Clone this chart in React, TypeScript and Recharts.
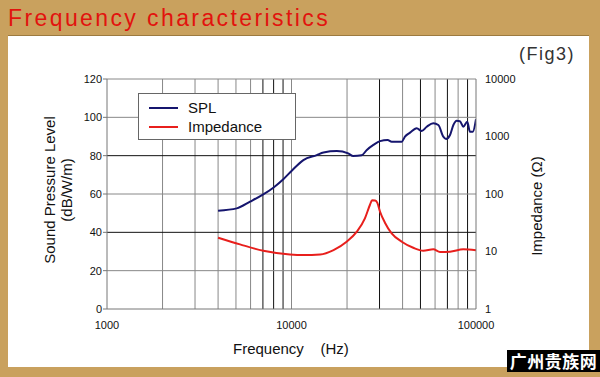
import { ComposedChart, Line, XAxis, YAxis, ReferenceLine } from "recharts";

const splFreq = [4000, 5050, 5960, 7030, 7970, 9030, 10000, 11600, 13700, 14900, 17600, 20300, 21600, 24000, 25600, 27800, 30200, 33200, 34900, 39600, 41200, 43900, 47700, 50800, 54100, 58700, 62500, 66500, 68800, 72300, 75400, 78600, 81800, 85300, 89700, 92700, 96100, 100000];
const splValues = [51.3, 52.5, 56, 59.8, 63.3, 67.7, 72, 77.7, 80.3, 81.7, 82.4, 81.2, 79.8, 80.2, 83, 85.6, 87.6, 88.2, 87.3, 87.3, 89.9, 92, 94.3, 92.9, 95.1, 96.9, 96, 89.9, 88.7, 90.8, 96, 98.2, 98, 95.1, 97.7, 92.5, 92.5, 99];

const impFreq = [4000, 5260, 7030, 9810, 11600, 14300, 16900, 19900, 22600, 25000, 26600, 27300, 28400, 29200, 30200, 32100, 34900, 39600, 45700, 51800, 58700, 63800, 72300, 85300, 100000];
const impValues = [17.4, 13.3, 10.3, 8.9, 8.7, 8.9, 10.6, 14.8, 22.1, 37.8, 64.4, 77.5, 77, 70, 49.2, 31.7, 20.7, 14.8, 11.6, 10.3, 10.9, 9.8, 9.9, 10.9, 10.5];

const freqTicks = [1000, 10000, 100000];
const splTicks = [0, 20, 40, 60, 80, 100, 120];
const impTicks = [1, 10, 100, 1000, 10000];
const gridFreqs = [2000, 3000, 4000, 5000, 6000, 7000, 8000, 9000, 10000, 20000, 30000, 40000, 50000, 60000, 70000, 80000, 90000];
const gridLevels = [20, 40, 60, 80, 100];

const splData = splFreq.map((f, i) => ({ f, v: splValues[i] }));
const impData = impFreq.map((f, i) => ({ f, v: impValues[i] }));

const darkFreqs = [7000, 8000, 9000, 30000, 50000, 70000, 90000];
const darkLevels = [40, 80];

const FONT = "'Liberation Sans', Arial, sans-serif";
const tickStyle = { fontSize: 11, fill: "#111", fontFamily: FONT };

const legendRows = [
  { name: "SPL", color: "#15156e" },
  { name: "Impedance", color: "#e81f1c" },
];

function LegendBox() {
  return (
    <div style={{ position: "absolute", left: 138, top: 93, width: 158, height: 47, border: "1px solid #666", background: "#fff", boxSizing: "border-box", paddingTop: 4 }}>
      {legendRows.map((r) => (
        <div key={r.name} style={{ display: "flex", alignItems: "center", height: 19, fontFamily: FONT, fontSize: 15, color: "#111" }}>
          <div style={{ width: 29, height: 2, background: r.color, marginLeft: 10, marginRight: 10 }} />
          {r.name}
        </div>
      ))}
    </div>
  );
}

export default function App() {
  return (
    <div style={{ position: "absolute", left: 0, top: 0, width: 600, height: 377, background: "#c9a15e", overflow: "hidden" }}>
      <div style={{ position: "absolute", left: 8, top: 35, width: 581, height: 331, background: "#fff", borderTop: "1px solid #9c7a40" }} />
      <div style={{ position: "absolute", left: 8, top: 4, fontFamily: FONT, fontSize: 23, letterSpacing: 2.4, color: "#e2130e", lineHeight: "28px" }}>
        Frequency characteristics
      </div>
      <div style={{ position: "absolute", left: 519, top: 42, fontFamily: FONT, fontSize: 18, letterSpacing: 1.5, color: "#333", lineHeight: "24px" }}>
        (Fig3)
      </div>
      <div style={{ position: "absolute", left: 0, top: 0 }}>
        <ComposedChart width={600} height={377} margin={{ top: 79, right: 0, bottom: 0, left: 0 }}>
          <XAxis
            dataKey="f"
            type="number"
            scale="log"
            domain={[1000, 100000]}
            ticks={freqTicks}
            allowDataOverflow
            height={68}
            stroke="#777"
            tickLine={false}
            tickSize={6}
            tickMargin={6}
            tick={tickStyle}
          />
          <YAxis
            yAxisId="spl"
            orientation="left"
            domain={[0, 120]}
            ticks={splTicks}
            width={107}
            stroke="#777"
            tickSize={4}
            tickMargin={1}
            tick={tickStyle}
          />
          <YAxis
            yAxisId="imp"
            orientation="right"
            scale="log"
            domain={[1, 10000]}
            ticks={impTicks}
            allowDataOverflow
            width={124}
            stroke="#777"
            tickLine={false}
            tickSize={6}
            tickMargin={3}
            tick={tickStyle}
          />
          {gridFreqs.map((f) => (
            <ReferenceLine key={"x" + f} x={f} yAxisId="spl" stroke={darkFreqs.includes(f) ? "#111" : "#888"} strokeWidth={1} />
          ))}
          {gridLevels.map((v) => (
            <ReferenceLine key={"y" + v} y={v} yAxisId="spl" stroke={darkLevels.includes(v) ? "#111" : "#888"} strokeWidth={1} />
          ))}
          <ReferenceLine y={120} yAxisId="spl" stroke="#888" />
          <Line
            data={splData}
            dataKey="v"
            name="SPL"
            yAxisId="spl"
            type="monotone"
            stroke="#15156e"
            strokeWidth={2}
            dot={false}
            isAnimationActive={false}
          />
          <Line
            data={impData}
            dataKey="v"
            name="Impedance"
            yAxisId="imp"
            type="monotone"
            stroke="#e81f1c"
            strokeWidth={2}
            dot={false}
            isAnimationActive={false}
          />
        </ComposedChart>
      </div>
      <LegendBox />
      <div style={{ position: "absolute", left: 233, top: 339, fontFamily: FONT, fontSize: 15, color: "#111", whiteSpace: "pre", lineHeight: "20px" }}>
        {"Frequency    (Hz)"}
      </div>
      <div style={{ position: "absolute", left: 58, top: 190, width: 0, height: 0 }}>
        <div style={{ position: "absolute", transform: "translate(-50%, -50%) rotate(-90deg)", fontFamily: FONT, fontSize: 15, color: "#111", textAlign: "center", lineHeight: "17px", whiteSpace: "nowrap" }}>
          Sound Pressure Level
          <br />
          (dB/W/m)
        </div>
      </div>
      <div style={{ position: "absolute", left: 536, top: 206, width: 0, height: 0 }}>
        <div style={{ position: "absolute", transform: "translate(-50%, -50%) rotate(-90deg)", fontFamily: FONT, fontSize: 15, color: "#111", whiteSpace: "nowrap" }}>
          Impedance (Ω)
        </div>
      </div>
      <div style={{ position: "absolute", left: 507, top: 350, width: 93, height: 22, background: "#000", color: "#fff", fontFamily: "'Noto Sans CJK SC', sans-serif", fontWeight: 700, fontSize: 17, lineHeight: "22px", textAlign: "center", letterSpacing: 0.5 }}>
        广州贵族网
      </div>
    </div>
  );
}
